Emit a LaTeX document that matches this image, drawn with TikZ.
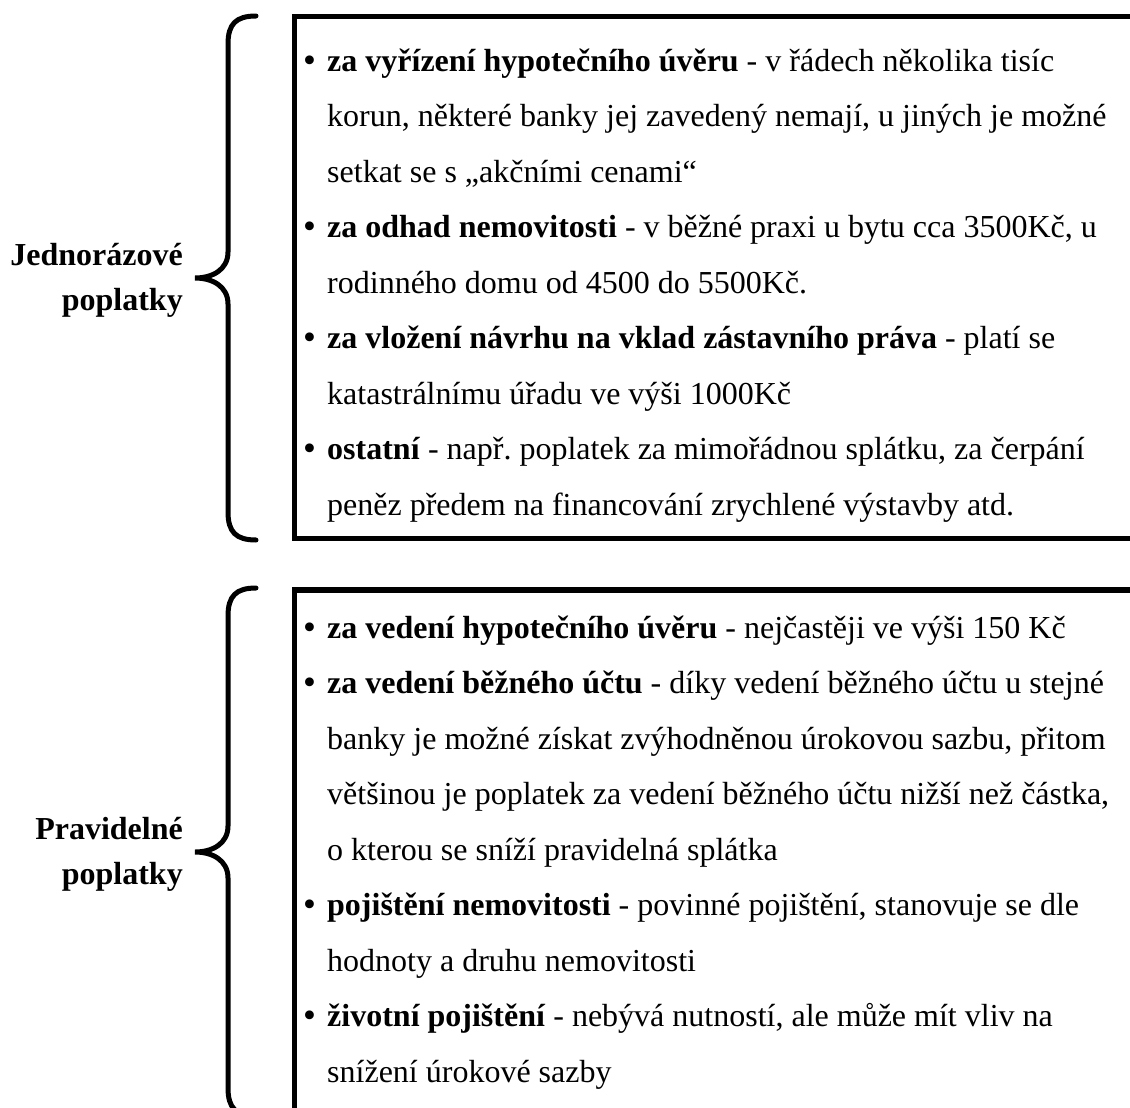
\documentclass[tikz,border=0pt]{standalone}
\usepackage{fontspec}
\setmainfont{Liberation Serif}
\frenchspacing
\tikzset{
  x=1pt, y=-1pt,
  frame/.style={line width=5.5pt},
  bracestyle/.style={line width=5pt, line cap=round},
  bodytext/.style={inner sep=0pt, anchor=base west, font=\fontsize{32}{38}\selectfont},
  labeltext/.style={inner sep=0pt, anchor=east, align=right, font=\fontsize{32}{45}\selectfont\bfseries},
}
\newcommand\mybullet{\raisebox{-1pt}{\scalebox{1.15}{\textbullet}}}
\newcommand\itemline[3]{\node[bodytext] (#1) at (303,#2) {\makebox[24pt][l]{\mybullet}#3};}
\newcommand\contline[3]{\node[bodytext] (#1) at (327,#2) {#3};}
\begin{document}
\begin{tikzpicture}
\useasboundingbox (0,0) rectangle (1130,1108);
\clip (0,0) rectangle (1130,1108);
% frames
\draw[frame] (1150,16.5) -- (294.5,16.5) -- (294.5,538.5) -- (1150,538.5);
\draw[frame] (1150,590) -- (294.5,590) -- (294.5,1130);
% braces
\draw[bracestyle] (256,16) .. controls (236,16) and (228,24) .. (228,44) -- (228,252)
  .. controls (228,270) and (212,278) .. (195,278)
  .. controls (212,278) and (228,286) .. (228,304) -- (228,512)
  .. controls (228,532) and (236,540) .. (256,540);
\draw[bracestyle] (256,588) .. controls (236,588) and (228,596) .. (228,616) -- (228,826)
  .. controls (228,844) and (212,852) .. (195,852)
  .. controls (212,852) and (228,860) .. (228,878) -- (228,1088)
  .. controls (228,1108) and (236,1116) .. (256,1116);
% labels
\node[labeltext] (lab1) at (183,280) {Jednorázové\\poplatky};
\node[labeltext] (lab2) at (183,854) {Pravidelné\\poplatky};
% box 1
\itemline{a1}{71}{\textbf{za vyřízení hypotečního úvěru} - v řádech několika tisíc}
\contline{a2}{126.5}{korun, některé banky jej zavedený nemají, u jiných je možné}
\contline{a3}{182}{setkat se s „akčními cenami“}
\itemline{a4}{237.5}{\textbf{za odhad nemovitosti} - v běžné praxi u bytu cca 3500Kč, u}
\contline{a5}{293}{rodinného domu od 4500 do 5500Kč.}
\itemline{a6}{348.5}{\textbf{za vložení návrhu na vklad zástavního práva} - platí se}
\contline{a7}{404}{katastrálnímu úřadu ve výši 1000Kč}
\itemline{a8}{459.5}{\textbf{ostatní} - např. poplatek za mimořádnou splátku, za čerpání}
\contline{a9}{515}{peněz předem na financování zrychlené výstavby atd.}
% box 2
\itemline{b1}{638}{\textbf{za vedení hypotečního úvěru} - nejčastěji ve výši 150 Kč}
\itemline{b2}{693.5}{\textbf{za vedení běžného účtu} - díky vedení běžného účtu u stejné}
\contline{b3}{749}{banky je možné získat zvýhodněnou úrokovou sazbu, přitom}
\contline{b4}{804.5}{většinou je poplatek za vedení běžného účtu nižší než částka,}
\contline{b5}{860}{o kterou se sníží pravidelná splátka}
\itemline{b6}{915.5}{\textbf{pojištění nemovitosti} - povinné pojištění, stanovuje se dle}
\contline{b7}{971}{hodnoty a druhu nemovitosti}
\itemline{b8}{1026.5}{\textbf{životní pojištění} - nebývá nutností, ale může mít vliv na}
\contline{b9}{1082}{snížení úrokové sazby}
\end{tikzpicture}
\end{document}
